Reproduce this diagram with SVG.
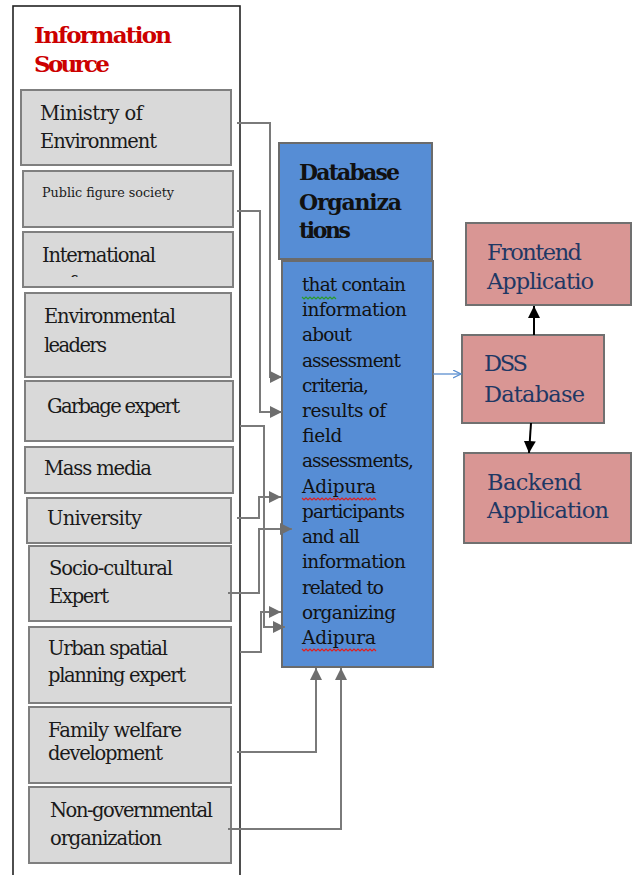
<svg xmlns="http://www.w3.org/2000/svg" width="634" height="875" viewBox="0 0 634 875">
<defs>
<style>
.src rect{fill:#d9d9d9;stroke:#7f7f7f;stroke-width:2}
.src text{font-family:"DejaVu Serif","Liberation Serif",serif;font-size:19.5px;fill:#1a1a1a}
.title{font-family:"DejaVu Serif","Liberation Serif",serif;font-size:23px;font-weight:bold;fill:#cc0000}
.blue{fill:#568dd5;stroke:#6b6b6b;stroke-width:2}
.hdr{font-family:"DejaVu Serif","Liberation Serif",serif;font-size:22px;font-weight:bold;fill:#111}
.body{font-family:"DejaVu Serif","Liberation Serif",serif;font-size:18.5px;fill:#111}
.pink{fill:#d99694;stroke:#707070;stroke-width:2}
.ptxt{font-family:"DejaVu Serif","Liberation Serif",serif;font-size:22.5px;fill:#1f3864}
.conn path{fill:none;stroke:#7a7a7a;stroke-width:2}
.squig{fill:none;stroke-width:1.2}
</style>
<marker id="ag" markerUnits="userSpaceOnUse" markerWidth="14" markerHeight="14" refX="12" refY="6" orient="auto">
<path d="M0,0 L12,6 L0,12 Z" fill="#6e6e6e"/>
</marker>
<marker id="ab" markerUnits="userSpaceOnUse" markerWidth="14" markerHeight="14" refX="12" refY="6" orient="auto">
<path d="M0,0 L12,6 L0,12 Z" fill="#000"/>
</marker>
<marker id="ao" markerUnits="userSpaceOnUse" markerWidth="10" markerHeight="10" refX="8" refY="4" orient="auto">
<path d="M0,0 L8,4 L0,8" fill="none" stroke="#5b8fd0" stroke-width="1.3"/>
</marker>
<clipPath id="clipIntl"><rect x="23" y="232" width="210" height="45"/></clipPath>
</defs>
<rect width="634" height="875" fill="#fff"/>

<g id="information-source">
<rect x="13" y="6" width="227" height="880" fill="#fff" stroke="#222" stroke-width="1.6"/>
<text class="title" x="34" y="43" textLength="138">Information</text>
<text class="title" x="34" y="72" textLength="76">Source</text>
</g>

<g id="ministry" class="src">
<rect x="21" y="90" width="210" height="75"/>
<text x="40" y="120" textLength="103">Ministry of</text>
<text x="40" y="148" textLength="117">Environment</text>
</g>
<g id="public-figure" class="src">
<rect x="23" y="171" width="210" height="56"/>
<text x="42" y="197" style="font-size:12px" textLength="132" lengthAdjust="spacingAndGlyphs">Public figure society</text>
</g>
<g id="international" class="src">
<rect x="23" y="232" width="210" height="55"/>
<text x="42" y="262" textLength="114">International</text>
<text x="69" y="290" clip-path="url(#clipIntl)">f</text>
</g>
<g id="env-leaders" class="src">
<rect x="25" y="293" width="206" height="84"/>
<text x="44" y="323" textLength="132">Environmental</text>
<text x="44" y="352" textLength="63">leaders</text>
</g>
<g id="garbage" class="src">
<rect x="25" y="381" width="208" height="60"/>
<text x="47" y="413" textLength="133">Garbage expert</text>
</g>
<g id="mass-media" class="src">
<rect x="25" y="447" width="208" height="46"/>
<text x="44" y="475" textLength="108">Mass media</text>
</g>
<g id="university" class="src">
<rect x="27" y="498" width="204" height="45"/>
<text x="47" y="525" textLength="95">University</text>
</g>
<g id="socio-cultural" class="src">
<rect x="29" y="546" width="202" height="75"/>
<text x="49" y="575" textLength="124">Socio-cultural</text>
<text x="49" y="603" textLength="60">Expert</text>
</g>
<g id="urban" class="src">
<rect x="29" y="627" width="202" height="76"/>
<text x="48" y="655" textLength="120">Urban spatial</text>
<text x="48" y="682" textLength="138">planning expert</text>
</g>
<g id="family" class="src">
<rect x="29" y="707" width="202" height="76"/>
<text x="48" y="737" textLength="134">Family welfare</text>
<text x="48" y="760" textLength="115">development</text>
</g>
<g id="ngo" class="src">
<rect x="29" y="787" width="202" height="76"/>
<text x="50" y="817" textLength="163">Non-governmental</text>
<text x="50" y="845" textLength="112">organization</text>
</g>

<g id="database-organizations">
<rect class="blue" x="279" y="143" width="153" height="116"/>
<text class="hdr" x="299" y="180" textLength="101">Database</text>
<text class="hdr" x="299" y="210" textLength="103">Organiza</text>
<text class="hdr" x="299" y="238" textLength="52">tions</text>
</g>

<g id="database-content">
<rect class="blue" x="282" y="261" width="151" height="406"/>
<text class="body" x="302" y="291" textLength="104">that contain</text>
<text class="body" x="302" y="316" textLength="105">information</text>
<text class="body" x="302" y="341" textLength="50">about</text>
<text class="body" x="302" y="367" textLength="99">assessment</text>
<text class="body" x="302" y="392" textLength="67">criteria,</text>
<text class="body" x="302" y="417" textLength="84">results of</text>
<text class="body" x="302" y="442" textLength="40">field</text>
<text class="body" x="302" y="467" textLength="112">assessments,</text>
<text class="body" x="302" y="493" textLength="74">Adipura</text>
<text class="body" x="302" y="518" textLength="103">participants</text>
<text class="body" x="302" y="543" textLength="58">and all</text>
<text class="body" x="302" y="568" textLength="104">information</text>
<text class="body" x="302" y="594" textLength="82">related to</text>
<text class="body" x="302" y="619" textLength="94">organizing</text>
<text class="body" x="302" y="644" textLength="74">Adipura</text>
<polyline class="squig" stroke="#2a9a2a" points="302,297 304,299 306,297 308,299 310,297 312,299 314,297 316,299 318,297 320,299 322,297 324,299 326,297 328,299 330,297 332,299 334,297 336,299"/>
<polyline class="squig" stroke="#e02020" points="302,498 304,500 306,498 308,500 310,498 312,500 314,498 316,500 318,498 320,500 322,498 324,500 326,498 328,500 330,498 332,500 334,498 336,500 338,498 340,500 342,498 344,500 346,498 348,500 350,498 352,500 354,498 356,500 358,498 360,500 362,498 364,500 366,498 368,500 370,498 372,500 374,498 376,500"/>
<polyline class="squig" stroke="#e02020" points="302,649 304,651 306,649 308,651 310,649 312,651 314,649 316,651 318,649 320,651 322,649 324,651 326,649 328,651 330,649 332,651 334,649 336,651 338,649 340,651 342,649 344,651 346,649 348,651 350,649 352,651 354,649 356,651 358,649 360,651 362,649 364,651 366,649 368,651 370,649 372,651 374,649 376,651"/>
</g>

<g id="frontend">
<rect class="pink" x="466" y="223" width="165" height="82"/>
<text class="ptxt" x="487" y="260" textLength="95">Frontend</text>
<text class="ptxt" x="487" y="289" textLength="107">Applicatio</text>
</g>
<g id="dss-database">
<rect class="pink" x="462" y="335" width="142" height="88"/>
<text class="ptxt" x="484" y="371" textLength="44">DSS</text>
<text class="ptxt" x="484" y="402" textLength="101">Database</text>
</g>
<g id="backend">
<rect class="pink" x="464" y="453" width="167" height="90"/>
<text class="ptxt" x="487" y="490" textLength="95">Backend</text>
<text class="ptxt" x="487" y="518" textLength="122">Application</text>
</g>

<g id="connectors" class="conn">
<path d="M237,123 H270 V377 H282" marker-end="url(#ag)"/>
<path d="M237,211 H260 V412 H282" marker-end="url(#ag)"/>
<path d="M240,426 H264 V627 H285" marker-end="url(#ag)"/>
<path d="M237,518 H259 V497 H281" marker-end="url(#ag)"/>
<path d="M228,593 H259 V529 H292" marker-end="url(#ag)"/>
<path d="M240,652 H261 V612 H281" marker-end="url(#ag)"/>
<path d="M237,752 H316 V668" marker-end="url(#ag)"/>
<path d="M228,829 H341 V668" marker-end="url(#ag)"/>
<path d="M433,374 H461" style="stroke:#5b8fd0;stroke-width:1.3" marker-end="url(#ao)"/>
<path d="M534,335 V306" style="stroke:#000" marker-end="url(#ab)"/>
<path d="M531,423 L529,453" style="stroke:#000" marker-end="url(#ab)"/>
</g>
</svg>
